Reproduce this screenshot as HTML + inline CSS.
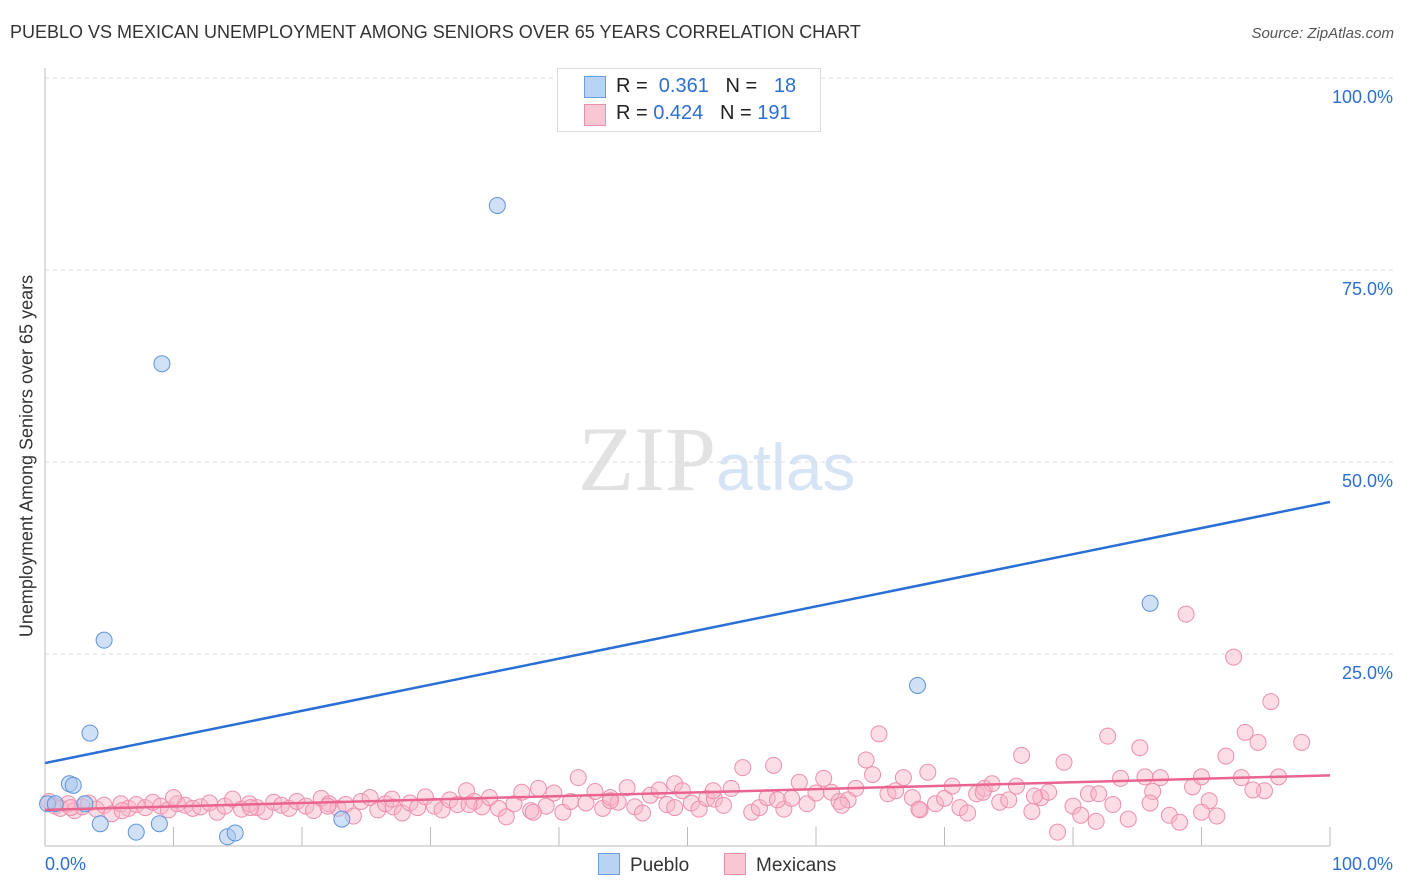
<!DOCTYPE html>
<html><head><meta charset="utf-8"><style>
body{margin:0;background:#fff;font-family:"Liberation Sans",sans-serif}
#wrap{position:relative;width:1406px;height:892px;overflow:hidden}
.t{position:absolute;white-space:nowrap}
</style></head><body><div id="wrap">
<div class="t" style="left:10px;top:22px;font-size:18px;color:#333">PUEBLO VS MEXICAN UNEMPLOYMENT AMONG SENIORS OVER 65 YEARS CORRELATION CHART</div>
<div class="t" style="right:12px;top:25px;font-size:15px;color:#555;font-style:italic">Source: ZipAtlas.com</div>
<svg id="s" width="1406" height="892" style="position:absolute;left:0;top:0"></svg>
<div style="position:absolute;left:557px;top:68px;width:262px;height:62px;border:1px solid #ddd;background:#fff;font-size:20px;color:#222">
 <div style="position:absolute;left:26px;top:7px;width:20px;height:20px;background:#b9d3f5;border:1px solid #6c9de0"></div>
 <div class="t" style="left:58px;top:6px">R = &nbsp;<span style="color:#2d6fd1">0.361</span>&nbsp;&nbsp;&nbsp;N = &nbsp;&nbsp;<span style="color:#2d6fd1">18</span></div>
 <div style="position:absolute;left:26px;top:35px;width:20px;height:20px;background:#f9c6d4;border:1px solid #e890aa"></div>
 <div class="t" style="left:58px;top:33px">R = <span style="color:#2d6fd1">0.424</span>&nbsp;&nbsp;&nbsp;N = <span style="color:#2d6fd1">191</span></div>
</div>
<div class="t" style="left:27px;top:456px;font-size:18px;color:#333;transform:translate(-50%,-50%) rotate(-90deg)">Unemployment Among Seniors over 65 years</div>
<div style="position:absolute;left:598px;top:853px;font-size:19px;color:#333"><span style="display:inline-block;width:20px;height:20px;background:#b9d3f5;border:1px solid #6c9de0;vertical-align:-4px;margin-right:10px"></span>Pueblo</div>
<div style="position:absolute;left:724px;top:853px;font-size:19px;color:#333"><span style="display:inline-block;width:20px;height:20px;background:#f9c6d4;border:1px solid #e890aa;vertical-align:-4px;margin-right:10px"></span>Mexicans</div>
</div>
<script>
const yTicks=[0,25,50,75,100];
const yTickLabels=["","25.0%","50.0%","75.0%","100.0%"];
const xLabels=["0.0%","100.0%"];
const puebloX=[0.2,0.8,1.9,2.2,3.1,3.5,4.3,4.6,7.1,8.9,9.1,14.2,14.8,23.1,35.2,67.9,86.0];
const puebloY=[5.5,5.5,8.1,7.9,5.5,14.7,2.9,26.8,1.8,2.9,62.8,1.2,1.7,3.5,83.4,20.9,31.6];
const puebloTrend=[10.8,44.8];
const mexTrend=[4.7,9.2];
const mexX=[
0.3,0.8,1.2,1.8,2.3,2.9,3.4,4.0,4.6,5.2,
5.9,6.5,7.1,7.8,8.4,9.0,9.6,10.3,10.9,11.5,
12.1,12.8,13.4,14.0,14.6,15.3,15.9,16.5,17.1,17.8,
18.4,19.0,19.6,20.3,20.9,21.5,22.1,22.8,23.4,24.0,
24.6,25.3,25.9,26.5,27.1,27.8,28.4,29.0,29.6,30.3,
30.9,31.5,32.1,32.8,33.4,34.0,34.6,35.3,35.9,36.5,
37.1,37.8,38.4,39.0,39.6,40.3,40.9,41.5,42.1,42.8,
43.4,44.0,44.6,45.3,45.9,46.5,47.1,47.8,48.4,49.0,
49.6,50.3,50.9,51.5,52.1,52.8,53.4,54.3,55.0,55.6,
56.2,56.7,57.5,58.1,58.7,59.3,60.0,60.6,61.2,61.8,
62.5,63.1,63.9,64.4,64.9,65.6,66.2,66.8,67.5,68.1,
68.7,69.3,70.0,70.6,71.2,71.8,72.5,73.1,73.7,74.3,
75.0,75.6,76.0,76.8,77.5,78.1,78.8,79.3,80.0,80.6,
81.2,81.8,82.7,83.1,83.7,84.3,85.2,85.6,86.2,86.8,
87.5,88.3,88.8,89.3,90.0,90.6,91.2,91.9,92.5,93.1,
93.4,94.4,94.9,95.4,96.0,97.8,2.0,6.0,10.0,16.0,
22.0,27.0,33.0,38.0,44.0,49.0,52.0,57.0,62.0,68.0,
73.0,77.0,82.0,86.0,90.0,94.0];
const mexY=[
5.8,5.2,4.9,5.5,4.6,5.1,5.6,4.8,5.3,4.2,
5.5,4.9,5.4,5.0,5.7,5.2,4.7,5.5,5.3,4.9,
5.1,5.6,4.4,5.2,6.1,4.8,5.5,5.0,4.5,5.7,
5.3,4.9,5.8,5.2,4.6,6.2,5.5,4.9,5.4,3.9,
5.8,6.3,4.7,5.5,5.1,4.3,5.6,5.0,6.4,5.2,
4.7,6.0,5.4,7.2,5.8,5.1,6.3,4.9,3.8,5.5,
7.0,4.6,7.5,5.2,6.9,4.4,5.8,8.9,5.6,7.1,
4.9,6.3,5.7,7.6,5.1,4.3,6.6,7.3,5.4,8.1,
7.2,5.6,4.8,6.2,6.1,5.3,7.5,10.2,4.4,5.0,
6.3,10.5,4.8,6.2,8.3,5.5,6.9,8.8,7.0,5.8,
6.0,7.5,11.2,9.3,14.6,6.8,7.2,8.9,6.3,4.7,
9.6,5.5,6.2,7.8,5.0,4.3,6.8,7.5,8.1,5.7,
6.0,7.8,11.8,4.5,6.3,7.0,1.8,10.9,5.2,4.0,
6.8,3.2,14.3,5.4,8.8,3.5,12.8,9.0,7.1,8.9,
4.0,3.1,30.2,7.7,9.0,5.9,3.9,11.7,24.6,8.9,
14.8,13.5,7.2,18.8,9.0,13.5,5.0,4.6,6.3,5.0,
5.2,6.1,5.4,4.4,5.9,5.0,7.2,6.0,5.3,4.8,
7.0,6.5,6.8,5.6,4.4,7.3];
const L=45,R=1330,T=78,B=846;
const xs=v=>L+(R-L)*v/100, ys=v=>B-(B-T)*v/100;
const s=document.getElementById('s');const NS='http://www.w3.org/2000/svg';
function mk(t,a){const e=document.createElementNS(NS,t);for(const k in a)e.setAttribute(k,a[k]);s.appendChild(e);return e;}
let e;
e=mk('text',{x:716,y:490,'font-size':92,'font-family':'Liberation Serif,serif',fill:'#e2e2e2','text-anchor':'end'});e.textContent='ZIP';


e=mk('text',{x:716,y:490,'font-size':66,'font-family':'Liberation Sans,sans-serif',fill:'#d6e4f6'});e.textContent='atlas';


yTicks.forEach((v,i)=>{if(v>0){e=mk('line',{x1:L,x2:1395,y1:ys(v),y2:ys(v),stroke:'#ddd','stroke-dasharray':'4,4'});


e=mk('text',{x:1393,y:ys(v)+25,'font-size':18,fill:'#2d6fd1','text-anchor':'end'});e.textContent=yTickLabels[i];

}});
e=mk('line',{x1:L,x2:L,y1:68,y2:B,stroke:'#bbb'});


e=mk('line',{x1:L,x2:R,y1:B,y2:B,stroke:'#bbb'});


for(let i=1;i<=10;i++){e=mk('line',{x1:xs(i*10),x2:xs(i*10),y1:B-19,y2:B,stroke:'#bbb'});

}
e=mk('text',{x:45,y:870,'font-size':18,fill:'#2d6fd1'});e.textContent=xLabels[0];


e=mk('text',{x:1393,y:870,'font-size':18,fill:'#2d6fd1','text-anchor':'end'});e.textContent=xLabels[1];


mexX.forEach((x,i)=>{e=mk('circle',{cx:xs(x),cy:ys(mexY[i]),r:8,fill:'rgba(248,180,200,0.45)',stroke:'#ec8fae','stroke-width':1});

});
puebloX.forEach((x,i)=>{e=mk('circle',{cx:xs(x),cy:ys(puebloY[i]),r:8,fill:'rgba(170,200,240,0.55)',stroke:'#5f93dc','stroke-width':1});

});
e=mk('line',{x1:xs(0),y1:ys(puebloTrend[0]),x2:xs(100),y2:ys(puebloTrend[1]),stroke:'#2a6fd6','stroke-width':2.5});


e=mk('line',{x1:xs(0),y1:ys(mexTrend[0]),x2:xs(100),y2:ys(mexTrend[1]),stroke:'#e9658f','stroke-width':2.5});


</script></body></html>
